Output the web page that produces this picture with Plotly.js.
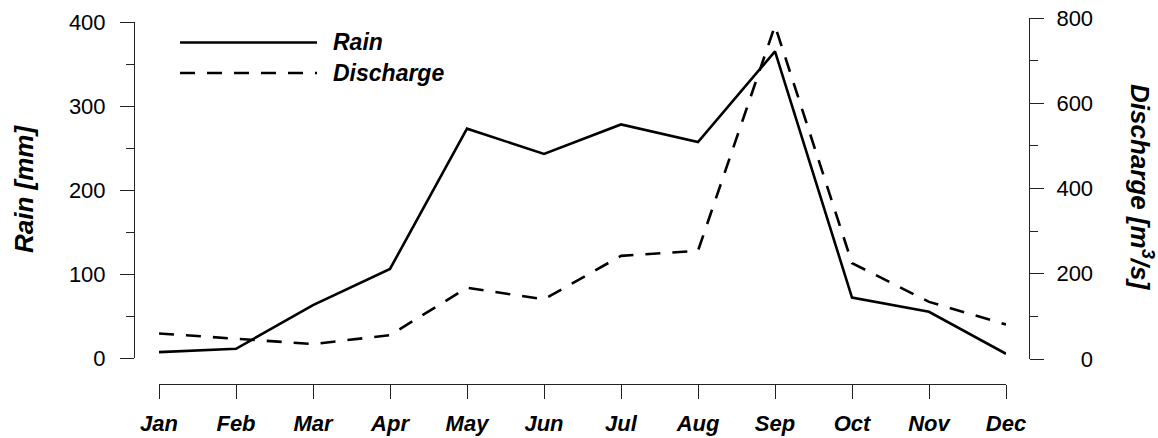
<!DOCTYPE html>
<html>
<head>
<meta charset="utf-8">
<script src="https://cdn.plot.ly/plotly-3.0.1.min.js"></script>
<style>html,body{margin:0;padding:0;background:#fff;}#chart{width:1158px;height:438px;}</style>
</head>
<body>
<div id="chart"></div>
<script>
const months = ["Jan","Feb","Mar","Apr","May","Jun","Jul","Aug","Sep","Oct","Nov","Dec"];
const rain = [7, 11, 63, 106, 273, 243, 278, 257, 365, 72, 55, 5];
const discharge = [60, 47, 35, 56, 167, 140, 242, 254, 782, 225, 134, 81];
const seriesNames = ["Rain", "Discharge"];
const leftTitle = "Rain [mm]";
const rightTitle = "Discharge [m<sup>3</sup>/s]";
const rightTickVals = [0, 200, 400, 600, 800];
const rightTickText = ["\u2007\u20070", "200", "400", "600", "800"];

const W = 1158, H = 438;
const FONT = "Liberation Sans, Arial, Helvetica, sans-serif";
const px = v => v / W;
const py = v => 1 - v / H;
const DASH = "15px,12px";
const titleFont = {family: FONT, size: 26, weight: "bold", style: "italic", color: "#000"};

const traces = [
  {x: months, y: rain, xaxis: "x", yaxis: "y", type: "scatter", mode: "lines",
   name: seriesNames[0], line: {color: "#000", width: 2.6}, showlegend: false},
  {x: months, y: discharge, xaxis: "x", yaxis: "y2", type: "scatter", mode: "lines",
   name: seriesNames[1], line: {color: "#000", width: 2.6, dash: DASH}, showlegend: false}
];

const axisLine = {showline: true, linecolor: "#222", linewidth: 1, ticks: "outside",
  tickcolor: "#222", tickwidth: 1, showgrid: false, zeroline: false, automargin: false};

const layout = {
  width: W, height: H,
  margin: {l: 0, r: 0, t: 0, b: 0, pad: 0},
  paper_bgcolor: "#fff", plot_bgcolor: "rgba(0,0,0,0)",
  font: {family: FONT, color: "#000", size: 22},
  showlegend: false,
  xaxis: Object.assign({}, axisLine, {
    type: "category", domain: [px(159), px(1006)], range: [0, 11],
    anchor: "free", position: py(384), ticklen: 14, ticklabelstandoff: 6,
    tickfont: {family: FONT, size: 22, weight: "bold", style: "italic", color: "#000"}
  }),
  yaxis: Object.assign({}, axisLine, {
    domain: [py(358), py(22)], range: [0, 400], dtick: 100, tick0: 0,
    anchor: "free", position: px(134), side: "left", ticklen: 14, ticklabelstandoff: 10,
    minor: {dtick: 50, ticklen: 8, ticks: "outside", tickcolor: "#222", tickwidth: 1, showgrid: false},
    tickfont: {family: FONT, size: 22, color: "#000"}
  }),
  yaxis2: Object.assign({}, axisLine, {
    domain: [py(359), py(18)], range: [0, 800],
    tickmode: "array", tickvals: rightTickVals, ticktext: rightTickText,
    anchor: "free", position: px(1029), side: "right", ticklen: 14, ticklabelstandoff: 8,
    minor: {tickmode: "linear", tick0: 0, dtick: 100, ticklen: 8, ticks: "outside", tickcolor: "#222", tickwidth: 1, showgrid: false},
    tickfont: {family: FONT, size: 22, color: "#000"}
  }),
  shapes: [
    {type: "line", xref: "paper", yref: "paper", x0: px(180), x1: px(317), y0: py(42.5), y1: py(42.5),
     line: {color: "#000", width: 2.6}},
    {type: "line", xref: "paper", yref: "paper", x0: px(180), x1: px(317), y0: py(73), y1: py(73),
     line: {color: "#000", width: 2.6, dash: DASH}}
  ],
  annotations: [
    {xref: "paper", yref: "paper", x: px(331), y: py(42.5), xanchor: "left", yanchor: "middle",
     text: seriesNames[0], showarrow: false,
     font: {family: FONT, size: 23, weight: "bold", style: "italic", color: "#000"}},
    {xref: "paper", yref: "paper", x: px(331), y: py(73), xanchor: "left", yanchor: "middle",
     text: seriesNames[1], showarrow: false,
     font: {family: FONT, size: 23, weight: "bold", style: "italic", color: "#000"}},
    {xref: "paper", yref: "paper", x: px(24), y: py(189), xanchor: "center", yanchor: "middle",
     text: leftTitle, textangle: -90, showarrow: false, font: titleFont},
    {xref: "paper", yref: "paper", x: px(1142), y: py(187), xanchor: "center", yanchor: "middle",
     text: rightTitle, textangle: 90, showarrow: false, font: titleFont}
  ]
};

Plotly.newPlot("chart", traces, layout, {staticPlot: true, displayModeBar: false});
</script>
</body>
</html>
